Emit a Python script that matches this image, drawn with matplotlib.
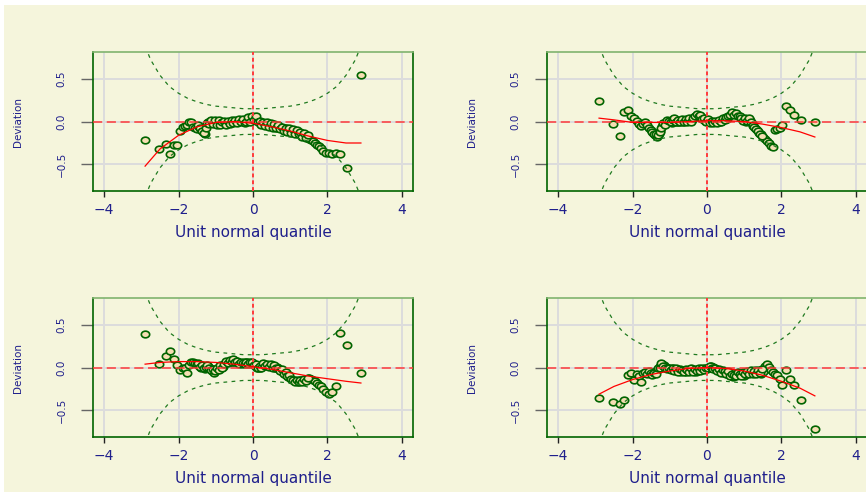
import matplotlib.pyplot as plt
from matplotlib.path import Path
from matplotlib.transforms import Affine2D
from matplotlib.patches import Rectangle

# unit normal quantiles shared by the four worm panels
zq = [-2.90, -2.52, -2.34, -2.22, -2.12, -2.03, -1.96, -1.89, -1.83, -1.77, -1.71, -1.66, -1.61, -1.56,
      -1.50, -1.45, -1.40, -1.35, -1.30, -1.25, -1.20, -1.15, -1.10, -1.05,
      -1.00, -0.95, -0.90, -0.85, -0.80, -0.75, -0.70, -0.65, -0.60, -0.55,
      -0.50, -0.45, -0.40, -0.35, -0.30, -0.25, -0.20, -0.15, -0.10, -0.05,
      0.00, 0.05, 0.10, 0.15, 0.20, 0.25, 0.30, 0.35, 0.40, 0.45,
      0.50, 0.55, 0.60, 0.65, 0.70, 0.75, 0.80, 0.85, 0.90, 0.95,
      1.00, 1.05, 1.10, 1.15, 1.20, 1.25, 1.30, 1.35, 1.40, 1.45,
      1.50,
      1.56, 1.61, 1.66, 1.71, 1.77, 1.83, 1.89, 1.96, 2.03, 2.12, 2.22, 2.34, 2.52, 2.90]

# extra quantiles in the dense centre of the worm
zq_mid = [-1.475, -1.425, -1.375, -1.325, -1.275, -1.225, -1.175, -1.125, -1.075, -1.025,
          -0.975, -0.925, -0.875, -0.825, -0.775, -0.725, -0.675, -0.625, -0.575, -0.525,
          -0.475, -0.425, -0.375, -0.325, -0.275, -0.225, -0.175, -0.125, -0.075, -0.025,
          0.025, 0.075, 0.125, 0.175, 0.225, 0.275, 0.325, 0.375, 0.425, 0.475,
          0.525, 0.575, 0.625, 0.675, 0.725, 0.775, 0.825, 0.875, 0.925, 0.975,
          1.025, 1.075, 1.125, 1.175, 1.225, 1.275, 1.325, 1.375, 1.425, 1.475]

dev1 = [-0.21, -0.32, -0.26, -0.38, -0.27, -0.27, -0.11, -0.06, -0.05, -0.04, -0.01, -0.01, -0.06, -0.08,
        -0.09, -0.06, -0.10, -0.12, -0.15, -0.05, 0.00, 0.01, 0.01, 0.00,
        -0.01, 0.01, 0.00, -0.02, -0.03, -0.01, -0.02, 0.00, -0.01, 0.01,
        0.00, -0.01, 0.01, 0.02, 0.01, 0.00, 0.02, 0.03, 0.02, 0.04,
        0.05, 0.04, 0.02, -0.01, -0.02, -0.03, -0.02, -0.04, -0.03, -0.05,
        -0.04, -0.06, -0.05, -0.07, -0.06, -0.08, -0.09, -0.08, -0.10, -0.09,
        -0.11, -0.10, -0.12, -0.13, -0.12, -0.14, -0.16, -0.15, -0.17, -0.18,
        -0.20,
        -0.22, -0.23, -0.25, -0.27, -0.29, -0.31, -0.34, -0.37, -0.37, -0.38, -0.37, -0.38, -0.545, 0.54]
dev1_mid = [-0.04, -0.08, -0.11, -0.13, -0.08, -0.02, -0.03, 0.02, -0.03, 0.02,
            -0.04, 0.02, -0.04, 0.00, 0.01, -0.04, 0.01, -0.03, 0.02, -0.02,
            0.02, -0.02, 0.03, -0.01, 0.03, -0.02, 0.00, 0.05, 0.00, 0.06,
            0.02, 0.06, 0.00, 0.01, -0.04, 0.00, -0.05, -0.01, -0.06, -0.02,
            -0.07, -0.03, -0.08, -0.04, -0.09, -0.06, -0.11, -0.07, -0.12, -0.07,
            -0.13, -0.09, -0.14, -0.10, -0.15, -0.12, -0.18, -0.13, -0.19, -0.16]

dev2 = [0.24, -0.03, -0.17, 0.11, 0.13, 0.07, 0.04, 0.01, -0.03, -0.05, -0.03, -0.01, -0.04, -0.07,
        -0.10, -0.13, -0.16, -0.18, -0.15, -0.11, -0.05, -0.02, 0.00, -0.01,
        0.01, -0.02, 0.03, 0.02, 0.00, -0.01, 0.01, 0.00, 0.02, 0.01,
        0.02, 0.03, 0.02, 0.05, 0.07, 0.08, 0.07, 0.05, 0.03, 0.01,
        0.02, 0.00, -0.01, 0.00, -0.01, -0.01, 0.00, -0.01, 0.01, 0.03,
        0.04, 0.03, 0.06, 0.09, 0.10, 0.09, 0.08, 0.06, 0.05, 0.03,
        0.02, -0.01, 0.03, 0.02, -0.02, -0.05, -0.07, -0.10, -0.13, -0.15,
        -0.18,
        -0.20, -0.23, -0.25, -0.28, -0.30, -0.10, -0.09, -0.07, -0.04, 0.18, 0.14, 0.08, 0.02, 0.00]
dev2_mid = [-0.12, -0.14, -0.15, -0.16, -0.12, -0.08, -0.02, -0.04, 0.02, 0.01,
            -0.01, 0.02, 0.04, 0.00, 0.02, -0.01, 0.03, 0.00, 0.03, 0.00,
            0.04, 0.00, 0.04, 0.06, 0.09, 0.06, 0.08, 0.03, 0.04, 0.00,
            0.03, -0.02, 0.01, -0.02, 0.01, -0.02, 0.02, 0.00, 0.04, 0.02,
            0.05, 0.07, 0.08, 0.11, 0.08, 0.10, 0.06, 0.07, 0.04, 0.01,
            0.04, 0.01, 0.04, 0.00, -0.04, -0.06, -0.09, -0.11, -0.14, -0.17]

dev3 = [0.39, 0.04, 0.13, 0.19, 0.10, 0.03, -0.03, 0.00, -0.01, -0.06, 0.03, 0.06, 0.07, 0.05,
        0.04, 0.02, 0.00, 0.01, -0.02, 0.00, 0.02, -0.01, -0.04, -0.06,
        -0.03, -0.02, 0.00, 0.02, 0.01, 0.05, 0.07, 0.06, 0.08, 0.07,
        0.09, 0.08, 0.06, 0.05, 0.04, 0.06, 0.05, 0.06, 0.05, 0.04,
        0.05, 0.02, 0.00, 0.01, -0.01, 0.02, 0.04, 0.03, 0.02, 0.03,
        0.01, 0.02, 0.00, 0.01, -0.02, -0.04, -0.05, -0.07, -0.09, -0.11,
        -0.12, -0.14, -0.15, -0.16, -0.17, -0.15, -0.16, -0.14, -0.15, -0.13,
        -0.12,
        -0.13, -0.14, -0.16, -0.18, -0.20, -0.22, -0.25, -0.29, -0.31, -0.28, -0.22, 0.40, 0.26, -0.06]
dev3_mid = [0.05, 0.01, 0.03, -0.01, 0.01, 0.03, 0.00, -0.03, -0.02, -0.04,
            -0.01, -0.03, 0.03, 0.00, 0.04, 0.08, 0.05, 0.09, 0.06, 0.10,
            0.06, 0.08, 0.04, 0.07, 0.05, 0.04, 0.07, 0.04, 0.06, 0.06,
            0.03, 0.04, -0.01, 0.02, 0.00, 0.05, 0.02, 0.04, 0.01, 0.04,
            0.00, 0.03, -0.01, 0.00, -0.04, -0.02, -0.07, -0.05, -0.10, -0.09,
            -0.13, -0.15, -0.17, -0.14, -0.17, -0.14, -0.17, -0.13, -0.16, -0.12]

dev4 = [-0.35, -0.40, -0.42, -0.38, -0.09, -0.06, -0.14, -0.07, -0.10, -0.17, -0.06, -0.05, -0.08, -0.04,
        -0.06, -0.08, -0.05, -0.03, -0.02, 0.02, 0.04, 0.03, 0.01, -0.01,
        -0.02, -0.01, -0.03, -0.02, -0.04, -0.03, -0.05, -0.04, -0.03, -0.05,
        -0.04, -0.02, -0.04, -0.03, -0.05, -0.03, -0.02, -0.03, -0.02, -0.01,
        -0.02, 0.00, 0.02, 0.01, -0.01, -0.02, -0.03, -0.05, -0.04, -0.06,
        -0.05, -0.07, -0.06, -0.09, -0.11, -0.08, -0.07, -0.09, -0.06, -0.08,
        -0.10, -0.07, -0.05, -0.06, -0.04, -0.05, -0.03, -0.06, -0.04, -0.08,
        -0.05,
        0.02, 0.04, 0.01, -0.03, -0.05, -0.07, -0.09, -0.13, -0.20, -0.03, -0.13, -0.20, -0.38, -0.72]
dev4_mid = [-0.09, -0.06, -0.07, -0.01, 0.00, 0.05, 0.02, 0.00, -0.02, 0.00,
            -0.03, -0.01, -0.04, -0.01, -0.05, -0.02, -0.03, -0.05, -0.02, -0.03,
            -0.05, -0.01, -0.05, -0.02, -0.04, -0.01, -0.04, -0.01, -0.03, 0.00,
            -0.01, 0.02, 0.00, -0.02, 0.00, -0.04, -0.02, -0.06, -0.03, -0.04,
            -0.08, -0.04, -0.10, -0.07, -0.09, -0.10, -0.05, -0.08, -0.10, -0.05,
            -0.08, -0.04, -0.08, -0.03, -0.07, -0.04, -0.07, -0.03, -0.06, -0.02]

# fitted cubic curve for each panel
fit_z = [-2.9, -2.5, -2.0, -1.5, -1.0, -0.5, 0.0, 0.5, 1.0, 1.5, 2.0, 2.5, 2.9]
fit1 = [-0.52, -0.32, -0.16, -0.06, -0.01, 0.00, -0.02, -0.06, -0.11, -0.17, -0.22, -0.25, -0.25]
fit2 = [0.04, 0.02, -0.01, -0.01, -0.01, 0.00, 0.01, 0.01, 0.00, -0.03, -0.07, -0.12, -0.18]
fit3 = [0.04, 0.06, 0.07, 0.07, 0.06, 0.04, 0.01, -0.02, -0.06, -0.10, -0.13, -0.16, -0.18]
fit4 = [-0.31, -0.22, -0.14, -0.08, -0.04, -0.01, 0.00, -0.01, -0.04, -0.09, -0.16, -0.24, -0.33]

# 95% band around zero
band_z = [-3.25, -3.0, -2.75, -2.5, -2.25, -2.0, -1.75, -1.5, -1.25, -1.0, -0.75, -0.5, -0.25,
          0.0, 0.25, 0.5, 0.75, 1.0, 1.25, 1.5, 1.75, 2.0, 2.25, 2.5, 2.75, 3.0, 3.25]
band_hi = [1.42, 0.99, 0.72, 0.54, 0.41, 0.33, 0.27, 0.23, 0.20, 0.18, 0.17, 0.16, 0.15,
           0.15, 0.15, 0.16, 0.17, 0.18, 0.20, 0.23, 0.27, 0.33, 0.41, 0.54, 0.72, 0.99, 1.42]
band_lo = [-v for v in band_hi]

xticks = [-4, -2, 0, 2, 4]
xticklabels = ['\u22124', '\u22122', '0', '2', '4']
yticks = [-0.5, 0.0, 0.5]
yticklabels = ['\u22120.5', '0.0', '0.5']

txt = '#1f1f8c'
bg = '#f5f5dc'
oval = Path.unit_circle().transformed(Affine2D().scale(1.25, 1.0))

fig = plt.figure(figsize=(8.66, 4.94), dpi=100, facecolor='white')
fig.add_artist(Rectangle((4 / 866, 2 / 494), 1, 487 / 494, transform=fig.transFigure,
                         facecolor=bg, edgecolor='none', zorder=-10))

w, h = 0.3695, 0.281
positions = [(0.1074, 0.6134), (0.6316, 0.6134), (0.1074, 0.1154), (0.6316, 0.1154)]
devs = [dev1, dev2, dev3, dev4]
devs_mid = [dev1_mid, dev2_mid, dev3_mid, dev4_mid]
fits = [fit1, fit2, fit3, fit4]

for (l, b), dev, dev_mid, fit in zip(positions, devs, devs_mid, fits):
    ax = fig.add_axes([l, b, w, h])
    ax.set_facecolor(bg)
    ax.set_xlim(-4.3, 4.3)
    ax.set_ylim(-0.81, 0.81)
    ax.grid(color='#dcdcdc', lw=1.4)
    ax.set_axisbelow(True)

    pts = dict(ls='none', marker=oval, ms=6, mfc='wheat', mec='darkgreen', mew=1.2, zorder=2)
    ax.plot(zq, dev, **pts)
    ax.plot(zq_mid, dev_mid, **pts)
    ax.plot(band_z, band_hi, color='#1f7a1f', ls=(0, (3, 3.5)), lw=0.9, zorder=3)
    ax.plot(band_z, band_lo, color='#1f7a1f', ls=(0, (3, 3.5)), lw=0.9, zorder=3)
    ax.plot(fit_z, fit, color='red', lw=0.9, zorder=4)
    ax.axhline(0, color='#ff3a3a', ls=(0, (6, 3)), lw=1.1, zorder=3)
    ax.axvline(0, color='#ff3a3a', ls=(0, (2, 1.5)), lw=1.4, zorder=3)

    ax.set_xticks(xticks)
    ax.set_xticklabels(xticklabels)
    ax.set_yticks(yticks)
    ax.set_yticklabels(yticklabels, rotation=90, va='center')
    ax.tick_params(axis='x', direction='out', length=4, width=1, color='#222222',
                   labelsize=10, labelcolor=txt, pad=5)
    ax.tick_params(axis='y', direction='out', length=9, width=1, color='#666666',
                   labelsize=7.5, labelcolor=txt, pad=10)

    for side in ['left', 'bottom', 'right']:
        ax.spines[side].set_color('darkgreen')
        ax.spines[side].set_linewidth(1.2)
    ax.spines['top'].set_color('#80b46e')
    ax.spines['top'].set_linewidth(1.2)

    ax.set_xlabel('Unit normal quantile', fontsize=11, color=txt, va='center')
    ax.xaxis.set_label_coords(0.5, -0.30)
    ax.set_ylabel('Deviation', fontsize=7.5, color=txt, va='center')
    ax.yaxis.set_label_coords(-0.234, 0.5)

fig.savefig('out.png', dpi=100)
